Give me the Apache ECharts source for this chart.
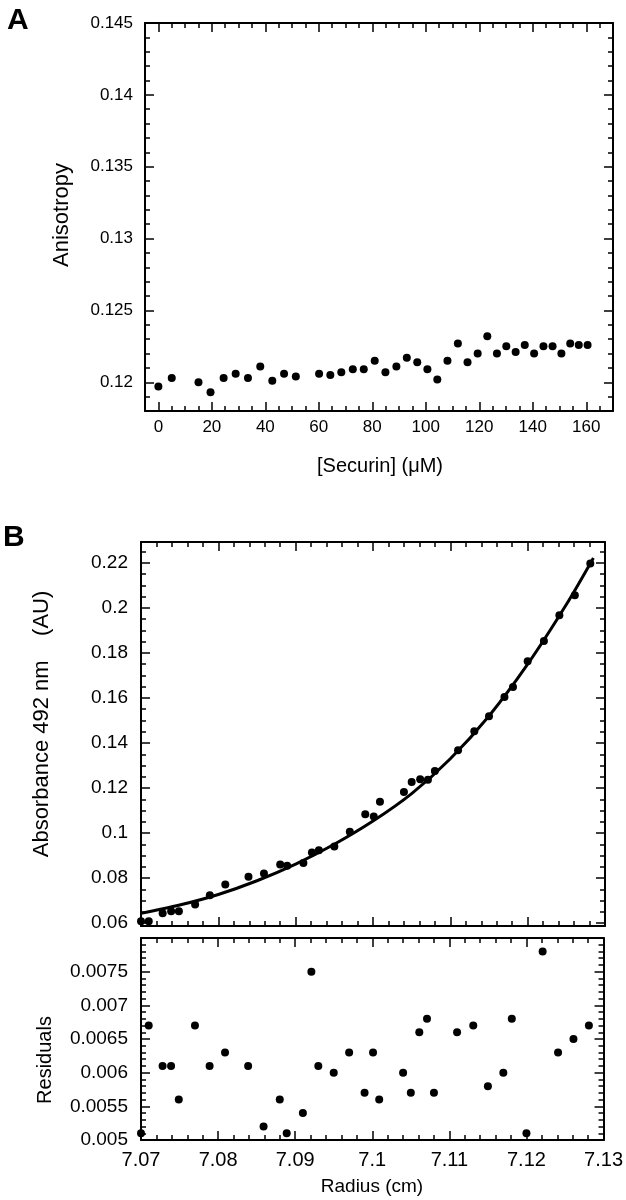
<!DOCTYPE html>
<html>
<head>
<meta charset="utf-8">
<script src="https://cdn.jsdelivr.net/npm/echarts@6/dist/echarts.min.js"></script>
<style>html,body{margin:0;padding:0;background:#fff;}#c{width:626px;height:1200px;}</style>
</head>
<body>
<div id="c"></div>
<script>
// ---- Panel A data ----
const securin = [0,5,15,19.5,24.4,28.9,33.5,38.1,42.6,47.0,51.4,60.1,64.3,68.4,72.7,76.8,80.9,84.9,89.0,92.9,96.8,100.6,104.3,108.1,112.0,115.6,119.4,123.0,126.6,130.1,133.6,137.0,140.5,144.0,147.4,150.7,154.0,157.2,160.5];
const anisotropy = [0.1197,0.1203,0.1200,0.1193,0.1203,0.1206,0.1203,0.1211,0.1201,0.1206,0.1204,0.1206,0.1205,0.1207,0.1209,0.1209,0.1215,0.1207,0.1211,0.1217,0.1214,0.1209,0.1202,0.1215,0.1227,0.1214,0.1220,0.1232,0.1220,0.1225,0.1221,0.1226,0.1220,0.1225,0.1225,0.1220,0.1227,0.1226,0.1226];
// ---- Panel B data ----
const radius = [7.0700,7.0710,7.0728,7.0739,7.0749,7.0770,7.0789,7.0809,7.0839,7.0859,7.0880,7.0889,7.0910,7.0921,7.0930,7.0950,7.0970,7.0990,7.1001,7.1009,7.1040,7.1050,7.1061,7.1071,7.1080,7.1110,7.1131,7.1150,7.1170,7.1181,7.1200,7.1221,7.1241,7.1261,7.1281];
const absorbance = [0.0608,0.0608,0.0644,0.0653,0.0653,0.0682,0.0724,0.0771,0.0806,0.0820,0.0860,0.0855,0.0867,0.0914,0.0923,0.0940,0.1006,0.1083,0.1074,0.1139,0.1182,0.1227,0.1239,0.1237,0.1276,0.1368,0.1452,0.1519,0.1604,0.1649,0.1763,0.1853,0.1968,0.2056,0.2197];
const residuals = [0.0051,0.0067,0.0061,0.0061,0.0056,0.0067,0.0061,0.0063,0.0061,0.0052,0.0056,0.0051,0.0054,0.0075,0.0061,0.0060,0.0063,0.0057,0.0063,0.0056,0.0060,0.0057,0.0066,0.0068,0.0057,0.0066,0.0067,0.0058,0.0060,0.0068,0.0051,0.0078,0.0063,0.0065,0.0067];
const fitRadius = [7.0700,7.0750,7.0800,7.0850,7.0900,7.0950,7.1000,7.1050,7.1100,7.1150,7.1200,7.1250,7.1285];
const fitAbsorbance = [0.0643,0.0680,0.0727,0.0788,0.0862,0.0950,0.1053,0.1175,0.1330,0.1520,0.1750,0.2015,0.2222];
// ---- tick labels ----
const aXTickLabels = [0,20,40,60,80,100,120,140,160];
const aYTickLabels = [0.12,0.125,0.13,0.135,0.14,0.145];
const bXTickLabels = [7.07,7.08,7.09,7.1,7.11,7.12,7.13];
const absTickLabels = [0.06,0.08,0.1,0.12,0.14,0.16,0.18,0.2,0.22];
const resTickLabels = [0.005,0.0055,0.006,0.0065,0.007,0.0075];

function range(a, b, s) {
  const out = [];
  const n = Math.round((b - a) / s);
  for (let i = 0; i <= n; i++) out.push(+(a + i * s).toFixed(6));
  return out;
}
const FONT = 'Liberation Sans';
function axisSet(dim, grid, min, max, minor, major, labels, labelSize, margin) {
  const pos = dim === 'x' ? ['bottom', 'top'] : ['left', 'right'];
  const line = {show: true, onZero: false, lineStyle: {color: '#000', width: 2}};
  const noLine = {show: false, onZero: false};
  const tickStyle = {color: '#000', width: 1.5};
  const base = {type: 'value', gridIndex: grid, min: min, max: max, splitLine: {show: false}, scale: true};
  const mk = (p, isMajor, withLabels) => Object.assign({}, base, {
    position: p,
    axisLine: isMajor ? noLine : line,
    axisTick: {show: true, inside: true, length: isMajor ? 9 : 5, customValues: isMajor ? major : minor, lineStyle: tickStyle},
    axisLabel: withLabels ? {show: true, customValues: labels, fontFamily: FONT, fontSize: labelSize, color: '#000', margin: margin,
      formatter: v => String(+(+v).toFixed(6))} : {show: false}
  });
  return [mk(pos[0], false, false), mk(pos[0], true, !!labels), mk(pos[1], false, false), mk(pos[1], true, false)];
}

const xAxes = [], yAxes = [];
// grid 0: panel A
xAxes.push(...axisSet('x', 0, -5, 170, range(-5, 170, 5), range(0, 160, 20), aXTickLabels, 17, 8));
yAxes.push(...axisSet('y', 0, 0.118, 0.145, range(0.118, 0.145, 0.001), range(0.12, 0.145, 0.005), aYTickLabels, 17, 12));
// grid 1: absorbance
xAxes.push(...axisSet('x', 1, 7.07, 7.13, range(7.07, 7.13, 0.002), range(7.07, 7.13, 0.01), null, 19, 10));
yAxes.push(...axisSet('y', 1, 0.0587, 0.2293, range(0.06, 0.225, 0.005), range(0.06, 0.22, 0.02), absTickLabels, 19, 13));
// grid 2: residuals
xAxes.push(...axisSet('x', 2, 7.07, 7.13, range(7.07, 7.13, 0.002), range(7.07, 7.13, 0.01), bXTickLabels, 20, 10));
yAxes.push(...axisSet('y', 2, 0.005, 0.008, range(0.005, 0.008, 0.0001), range(0.005, 0.0075, 0.0005), resTickLabels, 19, 13));

const zip = (xs, ys) => xs.map((x, i) => [x, ys[i]]);
const dot = {color: '#000', opacity: 1};
const centered = {fill: '#000', align: 'center', verticalAlign: 'middle', textAlign: 'center', textVerticalAlign: 'middle'};

const chart = echarts.init(document.getElementById('c'), null, {renderer: 'canvas'});
chart.setOption({
  animation: false,
  backgroundColor: '#fff',
  grid: [
    {left: 145, top: 23, width: 468, height: 388},
    {left: 141, top: 542, width: 464, height: 384},
    {left: 141, top: 938, width: 464, height: 202}
  ],
  xAxis: xAxes,
  yAxis: yAxes,
  series: [
    {type: 'scatter', xAxisIndex: 0, yAxisIndex: 0, data: zip(securin, anisotropy), symbolSize: 8, itemStyle: dot},
    {type: 'line', xAxisIndex: 4, yAxisIndex: 4, data: zip(fitRadius, fitAbsorbance), smooth: 0.3, showSymbol: false,
      lineStyle: {color: '#000', width: 3}, z: 3},
    {type: 'scatter', xAxisIndex: 4, yAxisIndex: 4, data: zip(radius, absorbance), symbolSize: 8, itemStyle: dot, z: 4},
    {type: 'scatter', xAxisIndex: 8, yAxisIndex: 8, data: zip(radius, residuals), symbolSize: 8, itemStyle: dot}
  ],
  graphic: [
    {type: 'text', x: 7, y: 6, style: {text: 'A', font: 'bold 30px ' + FONT, fill: '#000'}},
    {type: 'text', x: 3, y: 523, style: {text: 'B', font: 'bold 30px ' + FONT, fill: '#000'}},
    {type: 'text', x: 62, y: 215, rotation: Math.PI / 2,
      style: Object.assign({text: 'Anisotropy', font: '22px ' + FONT}, centered)},
    {type: 'text', x: 380, y: 466,
      style: Object.assign({text: '[Securin] (\u03bcM)', font: '20px ' + FONT}, centered)},
    {type: 'text', x: 42, y: 724, rotation: Math.PI / 2,
      style: Object.assign({text: 'Absorbance 492 nm    (AU)', font: '22px ' + FONT}, centered)},
    {type: 'text', x: 45, y: 1060, rotation: Math.PI / 2,
      style: Object.assign({text: 'Residuals', font: '20px ' + FONT}, centered)},
    {type: 'text', x: 372, y: 1187,
      style: Object.assign({text: 'Radius (cm)', font: '19px ' + FONT}, centered)}
  ]
});
</script>
</body>
</html>
